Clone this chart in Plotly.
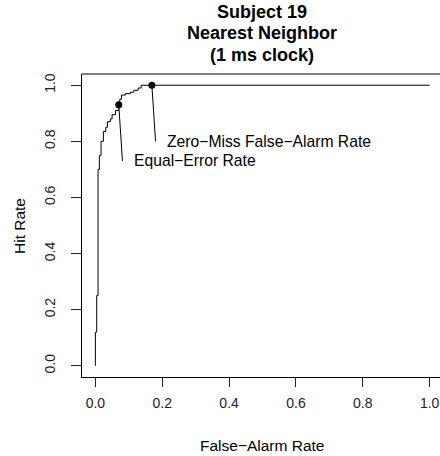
import plotly.graph_objects as go

# ROC step curve (false-alarm rate, hit rate)
false_alarm = [0, 0, 0.004, 0.008, 0.012, 0.017, 0.024, 0.031, 0.036, 0.045, 0.050,
               0.060, 0.069, 0.073, 0.078, 0.090, 0.105, 0.115, 0.128, 0.137, 1.0]
hit_rate = [0, 0.12, 0.25, 0.70, 0.75, 0.80, 0.835, 0.85, 0.87, 0.88, 0.895,
            0.91, 0.93, 0.95, 0.965, 0.97, 0.975, 0.982, 0.99, 1.0, 1.0]

# marked points
eer_point = (0.07, 0.93)
zm_point = (0.169, 1.0)
eer_label = "Equal\u2212Error Rate"
zm_label = "Zero\u2212Miss False\u2212Alarm Rate"
eer_leader_end = (0.081, 0.73)
zm_leader_end = (0.18, 0.80)

tick_vals = [0.0, 0.2, 0.4, 0.6, 0.8, 1.0]
tick_text = ["0.0", "0.2", "0.4", "0.6", "0.8", "1.0"]
title_lines = ["Subject 19", "Nearest Neighbor", "(1 ms clock)"]

FONT = "Liberation Sans, Arial, Helvetica, sans-serif"

fig = go.Figure()
fig.add_trace(go.Scatter(x=false_alarm, y=hit_rate, mode="lines", line_shape="hv",
                         line=dict(color="black", width=1), hoverinfo="skip"))
# leader lines
for p, q in [(eer_point, eer_leader_end), (zm_point, zm_leader_end)]:
    fig.add_trace(go.Scatter(x=[p[0], q[0]], y=[p[1], q[1]], mode="lines",
                             line=dict(color="black", width=1), hoverinfo="skip"))
fig.add_trace(go.Scatter(x=[eer_point[0], zm_point[0]], y=[eer_point[1], zm_point[1]],
                         mode="markers", marker=dict(color="black", size=7), cliponaxis=False))

fig.add_annotation(x=eer_leader_end[0] + 0.028, y=eer_leader_end[1], text=eer_label,
                   showarrow=False, xanchor="left", yanchor="middle",
                   font=dict(size=15.7, color="black", family=FONT))
fig.add_annotation(x=zm_leader_end[0] + 0.027, y=zm_leader_end[1], text=zm_label,
                   showarrow=False, xanchor="left", yanchor="middle",
                   font=dict(size=15.7, color="black", family=FONT))

# title lines
for i, t in enumerate(title_lines):
    fig.add_annotation(x=262, y=12 + 21.3 * i, xref="paper", yref="paper", text="<b>%s</b>" % t,
                       showarrow=False, xanchor="center", yanchor="middle",
                       font=dict(size=18, color="black", family=FONT))

W, H = 440, 456
L, R, T, B = 82, 0, 74, 79
pw, ph = W - L - R, H - T - B

# convert pixel positions of title annotations to paper coords
for a in fig.layout.annotations:
    if a.xref == "paper":
        a.x = (a.x - L) / pw
        a.y = 1 - (a.y - T) / ph

# axis titles
fig.add_annotation(x=(262 - L) / pw, y=1 - (445 - T) / ph, xref="paper", yref="paper",
                   text="False\u2212Alarm Rate", showarrow=False, xanchor="center", yanchor="middle",
                   font=dict(size=15.5, color="black", family=FONT))
fig.add_annotation(x=(19 - L) / pw, y=1 - (226 - T) / ph, xref="paper", yref="paper",
                   text="Hit Rate", showarrow=False, textangle=-90, xanchor="center", yanchor="middle",
                   font=dict(size=15.5, color="black", family=FONT))

# top border line
fig.add_shape(type="line", xref="paper", yref="paper", x0=0, x1=1.01, y0=1, y1=1,
              line=dict(color="black", width=1))

fig.update_layout(
    width=W, height=H, margin=dict(l=L, r=R, t=T, b=B),
    paper_bgcolor="white", plot_bgcolor="white", showlegend=False,
    font=dict(family=FONT, color="black"),
    xaxis=dict(range=[-0.04, -0.04 + pw / 334.3], tickvals=tick_vals, ticktext=tick_text,
               showgrid=False, zeroline=False, showline=True, linecolor="black", linewidth=1,
               ticks="outside", ticklen=9, tickcolor="#222", tickwidth=1,
               tickfont=dict(size=14, color="#222"), ticklabelstandoff=4),
    yaxis=dict(range=[-0.04, 1.04], tickvals=tick_vals, ticktext=tick_text,
               showgrid=False, zeroline=False, showline=True, linecolor="black", linewidth=1,
               ticks="outside", ticklen=10, tickcolor="#222", tickwidth=1, tickangle=-90,
               tickfont=dict(size=14, color="#222"), ticklabelstandoff=10),
)

fig.write_html("out.html", config={"displayModeBar": False},
               post_script="document.body.style.margin='0px';document.body.style.overflow='hidden';")
